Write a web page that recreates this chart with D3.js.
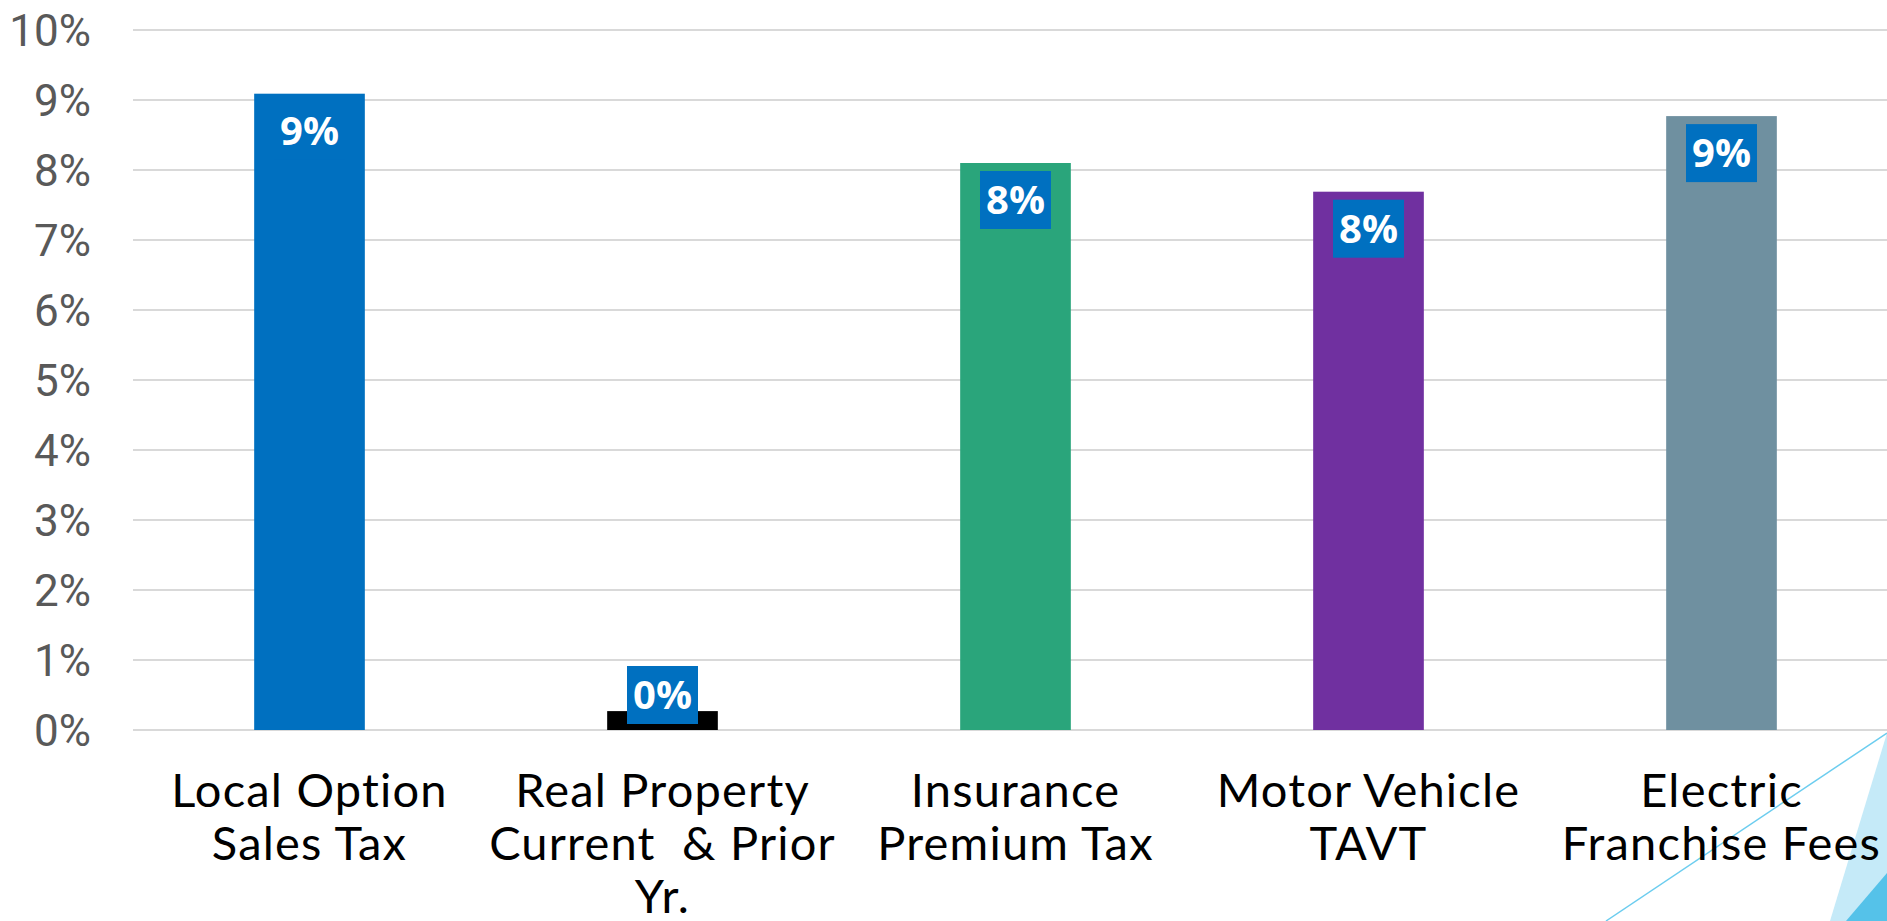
<!DOCTYPE html>
<html>
<head>
<meta charset="utf-8">
<script src="https://cdn.jsdelivr.net/npm/d3@7"></script>
<style>
  html, body { margin: 0; padding: 0; background: #fff; overflow: hidden; }
  #chart { width: 1887px; height: 921px; }
  text { white-space: pre; }
</style>
</head>
<body>
<div id="chart"></div>
<script>
// Data
const categories = [
  "Local Option\nSales Tax",
  "Real Property\nCurrent  & Prior\nYr.",
  "Insurance\nPremium Tax",
  "Motor Vehicle\nTAVT",
  "Electric\nFranchise Fees"
];
const values = [0.0909, 0.0027, 0.0810, 0.0769, 0.0877];
const dataLabels = ["9%", "0%", "8%", "8%", "9%"];
const barColors = ["#0070C0", "#000000", "#2AA57B", "#7030A0", "#6F90A0"];
const yTicks = [0, 0.01, 0.02, 0.03, 0.04, 0.05, 0.06, 0.07, 0.08, 0.09, 0.10];

const width = 1887, height = 921;

const svg = d3.select("#chart")
  .append("svg")
  .attr("width", width)
  .attr("height", height);

// slide decoration, bottom right
const deco = svg.append("g");
deco.append("polygon")
  .attr("points", [[1887, 733], [1830, 921], [1887, 921]].join(" "))
  .attr("fill", "#C5EAF8");
deco.append("polygon")
  .attr("points", [[1887, 873], [1846, 921], [1887, 921]].join(" "))
  .attr("fill", "#55C2E9");
deco.append("line")
  .attr("x1", 1887).attr("y1", 733)
  .attr("x2", 1606).attr("y2", 921)
  .attr("stroke", "#6CCDEF")
  .attr("stroke-width", 1.5);

// scales
const x = d3.scaleBand()
  .domain(categories)
  .range([133, 1898])
  .padding(0);

const y = d3.scaleLinear()
  .domain([0, 0.10])
  .range([730, 30]);

const barW = x.bandwidth() / 3.19;

// gridlines
svg.append("g")
  .selectAll("line")
  .data(yTicks)
  .join("line")
    .attr("x1", 133)
    .attr("x2", width)
    .attr("y1", d => y(d))
    .attr("y2", d => y(d))
    .attr("stroke", "#D9D9D9")
    .attr("stroke-width", 2);

// y axis labels
const yAxis = svg.append("g")
  .attr("transform", "translate(133,0)")
  .call(d3.axisLeft(y).tickValues(yTicks).tickFormat(d3.format(".0%")).tickSize(0).tickPadding(42));
yAxis.select(".domain").remove();
yAxis.selectAll("text")
  .attr("fill", "#595959")
  .style("font-family", "Roboto, sans-serif")
  .style("font-size", "44px")
  .attr("dy", "0.36em");

// bars
svg.append("g")
  .selectAll("rect")
  .data(values)
  .join("rect")
    .attr("x", (d, i) => x(categories[i]) + (x.bandwidth() - barW) / 2)
    .attr("y", d => y(d))
    .attr("width", barW)
    .attr("height", d => y(0) - y(d))
    .attr("fill", (d, i) => barColors[i]);

// data labels (blue boxes, inside end)
const boxW = 71, boxH = 58;
const labels = svg.append("g")
  .selectAll("g")
  .data(values)
  .join("g")
    .attr("transform", (d, i) => {
      const cx = x(categories[i]) + x.bandwidth() / 2;
      const top = Math.min(y(d) + 8, y(0) - 64);
      return `translate(${cx},${top})`;
    });

labels.append("rect")
  .attr("x", -boxW / 2)
  .attr("width", boxW)
  .attr("height", boxH)
  .attr("fill", "#0070C0");

labels.append("text")
  .attr("y", boxH / 2)
  .attr("dy", "0.36em")
  .attr("text-anchor", "middle")
  .attr("fill", "#fff")
  .style("font-family", "'Open Sans', sans-serif")
  .style("font-weight", 700)
  .style("font-size", "40px")
  .text((d, i) => dataLabels[i]);

// category labels
svg.append("g")
  .selectAll("text")
  .data(categories)
  .join("text")
    .attr("x", d => x(d) + x.bandwidth() / 2)
    .attr("y", 807)
    .attr("text-anchor", "middle")
    .attr("fill", "#000")
    .style("font-family", "Lato, sans-serif")
    .style("font-size", "47px")
    .style("letter-spacing", "1.2px")
    .each(function(d) {
      const t = d3.select(this);
      d.split("\n").forEach((line, k) => {
        t.append("tspan")
          .attr("x", x(d) + x.bandwidth() / 2)
          .attr("dy", k === 0 ? 0 : 53)
          .text(line);
      });
    });
</script>
</body>
</html>
